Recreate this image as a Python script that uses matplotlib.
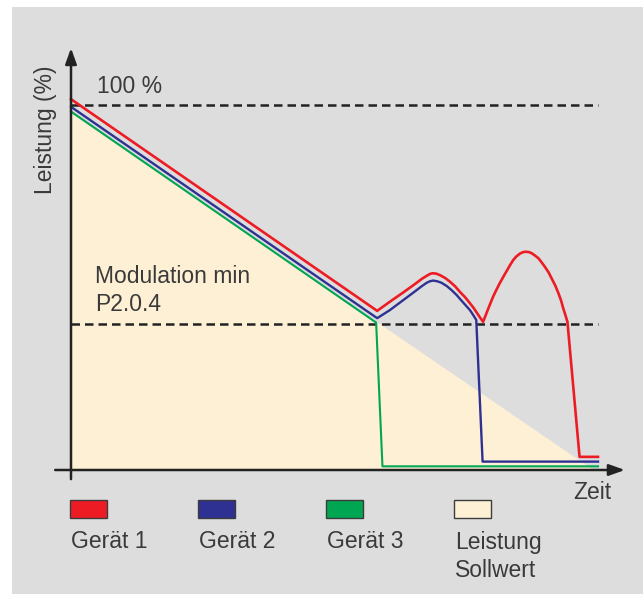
import matplotlib
matplotlib.use("Agg")
import matplotlib.pyplot as plt
from matplotlib.patches import Rectangle, FancyArrowPatch

plt.rcParams["font.family"] = ["Liberation Sans", "DejaVu Sans"]

# ---- data -------------------------------------------------------------
# time axis (0 .. 100) and power in percent
time_g1 = [0, 58.1, 60.5, 63.1, 65.6, 66.6, 67.5, 68.1, 68.6, 69.3, 70.0, 71.0,
           71.9, 72.9, 73.8, 74.8, 75.7, 76.4, 77.0, 77.6, 78.2,
           79.2, 80.1, 80.8, 81.4, 82.1, 82.7, 83.3, 83.9, 84.5, 85.2, 85.8,
           86.3, 86.9, 87.4, 88.0, 88.7, 89.3, 89.9, 90.6, 91.2, 91.9, 92.5,
           93.0, 93.4, 93.8, 94.2, 96.5, 100]
power_g1 = [101.6, 43.6, 46.1, 48.7, 51.3, 52.4, 53.2, 53.7, 53.9, 53.8, 53.4,
            52.6, 51.6, 50.3, 48.8, 47.3, 45.7, 44.4, 43.1, 41.8, 40.6,
            44.3, 47.5, 49.6, 51.3, 53.1, 54.6, 56.1, 57.5, 58.5, 59.3, 59.7,
            59.8, 59.7, 59.4, 58.8, 58.0, 56.9, 55.7, 54.2, 52.5, 50.5, 48.4,
            46.4, 44.3, 42.5, 40.6, 3.6, 3.6]

time_g2 = [0, 58.1, 60.5, 63.1, 65.6, 66.6, 67.5, 68.1, 68.7, 69.5, 70.3, 71.3,
           72.2, 73.2, 74.1, 74.9, 75.7, 76.3, 76.9, 78.1, 100]
power_g2 = [99.5, 41.6, 43.8, 46.6, 49.3, 50.4, 51.3, 51.7, 51.9, 51.7, 51.3,
            50.4, 49.3, 47.9, 46.4, 45.1, 43.8, 42.5, 41.1, 2.3, 2.3]

time_g3 = [0, 57.9, 59.1, 100]
power_g3 = [98.2, 40.4, 1.0, 1.0]

time_setpoint = [0, 99.2]
power_setpoint = [97.8, 0]

level_max = 100
level_mod_min = 40
label_max = "100 %"
label_mod_min = "Modulation min\nP2.0.4"

legend_labels = ["Gerät 1", "Gerät 2", "Gerät 3", "Leistung\nSollwert"]
ylabel = "Leistung (%)"
xlabel = "Zeit"

# ---- style ------------------------------------------------------------
W, H = 643, 594
RED, BLUE, GREEN, CREAM = "#ed1c24", "#2e3192", "#00a651", "#fef0d5"
GREY_BG = "#dddddd"
INK = "#222222"
TXT = "#3a3a3a"
FS = 16.5

fig = plt.figure(figsize=(W / 100, H / 100), dpi=100, facecolor="white")

# background panel and legend in pixel space
bg = fig.add_axes([0, 0, 1, 1], zorder=0)
bg.set_xlim(0, W)
bg.set_ylim(H, 0)
bg.axis("off")
bg.add_patch(Rectangle((12, 7), W - 12, H - 7, facecolor=GREY_BG, edgecolor="none"))

legend_colors = [RED, BLUE, GREEN, CREAM]
for i, (lab, col) in enumerate(zip(legend_labels, legend_colors)):
    x0 = 70 + 128 * i
    bg.add_patch(Rectangle((x0, 500), 37, 18, facecolor=col,
                           edgecolor="#3c3c3c", lw=1.0))
    # first line sits on y=548, following lines 29 px lower
    n_lines = lab.count("\n")
    bg.text(x0 + 1, 548 + 29 * n_lines, lab, fontsize=FS, color=TXT,
            ha="left", va="baseline", linespacing=1.27)

# chart area
ax = fig.add_axes([71 / W, (H - 470) / H, 527 / W, 365 / H], zorder=1)
ax.set_facecolor("none")
ax.set_xlim(0, 100)
ax.set_ylim(0, 100)
ax.axis("off")

ax.fill_between(time_setpoint, power_setpoint, 0, color=CREAM, lw=0, zorder=1)

dash = (8.5 * 0.72 / 1.8, 5.0 * 0.72 / 1.8)
for lvl in (level_max, level_mod_min):
    ax.plot([0, 100], [lvl, lvl], color=INK, lw=1.8, dashes=dash,
            clip_on=False, zorder=2)

ax.plot(time_g3, power_g3, color=GREEN, lw=1.5, clip_on=False, zorder=3,
        solid_joinstyle="round")
ax.plot(time_g2, power_g2, color=BLUE, lw=1.7, clip_on=False, zorder=4,
        solid_joinstyle="round")
ax.plot(time_g1, power_g1, color=RED, lw=1.9, clip_on=False, zorder=5,
        solid_joinstyle="round")

# axes with arrow heads
arrow_style = "-|>,head_length=9.5,head_width=3.4"
for start, end in (((-3.0, 0), (105.1, 0)), ((0, -2.5), (0, 115.6))):
    ax.add_patch(FancyArrowPatch(start, end, arrowstyle=arrow_style,
                                 mutation_scale=1, color=INK, lw=1.8,
                                 shrinkA=0, shrinkB=0, clip_on=False,
                                 zorder=6))

ax.text(4.9, 103.3, label_max, fontsize=FS, color=TXT, ha="left",
        va="baseline")
ax.text(4.5, 43.6, label_mod_min, fontsize=FS, color=TXT, ha="left",
        va="baseline", linespacing=1.27)
ax.text(95.3, -7.9, xlabel, fontsize=FS, color=TXT, ha="left", va="baseline",
        clip_on=False)
ax.text(-4.8, 93.3, ylabel, fontsize=FS, color=TXT, ha="center",
        va="center", rotation=90, clip_on=False)

fig.savefig("out.png", dpi=100, facecolor="white")
